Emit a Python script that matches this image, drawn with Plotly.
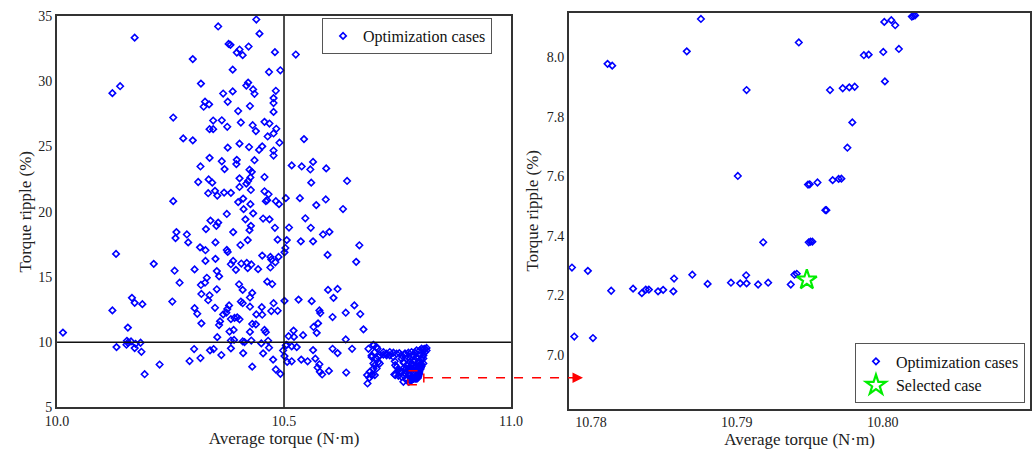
import plotly.graph_objects as go

# ---- Optimization cases: wide spread (Average torque N·m, Torque ripple %) ----
spread_x = [
    10.439, 10.355, 10.171, 10.446, 10.378, 10.382, 10.402, 10.422, 10.396, 10.409,
    10.480, 10.299, 10.387, 10.467, 10.492, 10.317, 10.421, 10.417, 10.139, 10.122,
    10.366, 10.387, 10.432, 10.435, 10.482, 10.477, 10.477, 10.326, 10.323, 10.335,
    10.376, 10.425, 10.399, 10.477, 10.256, 10.344, 10.363, 10.405, 10.375, 10.431,
    10.457, 10.468, 10.336, 10.344, 10.438, 10.483, 10.477, 10.464, 10.278, 10.299,
    10.490, 10.402, 10.376, 10.423, 10.445, 10.452, 10.477, 10.477, 10.336, 10.396,
    10.435, 10.363, 10.395, 10.316, 10.369, 10.424, 10.429, 10.402, 10.426, 10.457,
    10.334, 10.342, 10.311, 10.421, 10.417, 10.402, 10.348, 10.368, 10.383, 10.333,
    10.353, 10.457, 10.466, 10.427, 10.410, 10.399, 10.463, 10.460, 10.482, 10.489,
    10.256, 10.426, 10.411, 10.504,
    10.374, 10.432, 10.338, 10.355, 10.415, 10.454, 10.468, 10.427, 10.424, 10.480,
    10.351, 10.328, 10.388, 10.263, 10.261, 10.286, 10.289, 10.349, 10.420, 10.486,
    10.404, 10.315, 10.327, 10.374, 10.376, 10.130, 10.452, 10.470, 10.472, 10.488,
    10.481, 10.501, 10.327, 10.349, 10.388, 10.383, 10.406, 10.418, 10.428, 10.420,
    10.394, 10.443, 10.470, 10.213, 10.303, 10.352, 10.357, 10.259, 10.330, 10.326,
    10.317, 10.270, 10.401, 10.463, 10.474, 10.409, 10.352, 10.318, 10.336, 10.333,
    10.430, 10.425, 10.165, 10.171, 10.188, 10.254, 10.122, 10.303, 10.309, 10.348,
    10.379, 10.375, 10.405, 10.409, 10.425, 10.451, 10.477, 10.472, 10.486, 10.501,
    10.366, 10.373, 10.383, 10.391, 10.397, 10.402, 10.439, 10.452, 10.318, 10.359,
    10.357, 10.430, 10.438, 10.156, 10.013, 10.380, 10.389, 10.425, 10.457, 10.460,
    10.353, 10.383, 10.390, 10.409, 10.413, 10.428, 10.450, 10.465, 10.154, 10.156,
    10.153, 10.163, 10.173, 10.184, 10.131, 10.171, 10.186, 10.302, 10.337, 10.345,
    10.383, 10.362, 10.316, 10.292, 10.226, 10.193, 10.410, 10.454, 10.467, 10.430,
    10.476, 10.482, 10.492, 10.501, 10.504,
    10.526, 10.544, 10.517, 10.539, 10.564, 10.558, 10.593, 10.639, 10.560, 10.535,
    10.592, 10.571, 10.630,
    10.547, 10.511, 10.559, 10.586, 10.600, 10.506, 10.537, 10.564, 10.503, 10.666,
    10.596, 10.659, 10.532, 10.561, 10.597, 10.618, 10.609, 10.578, 10.580, 10.607,
    10.636, 10.655, 10.668, 10.675, 10.565, 10.575, 10.572, 10.521, 10.510, 10.522,
    10.542, 10.636, 10.506, 10.517, 10.528, 10.498, 10.564, 10.607, 10.618, 10.650,
    10.507, 10.517, 10.538, 10.552, 10.569, 10.578, 10.574, 10.579, 10.584, 10.599,
    10.637,
]
spread_y = [
    34.73, 34.20, 33.34, 33.65, 32.86, 32.79, 32.43, 32.66, 32.20, 32.00,
    32.23, 31.70, 30.89, 30.71, 30.84, 29.82, 29.90, 29.67, 29.62, 29.09,
    29.06, 29.22, 29.37, 29.04, 29.27, 28.71, 28.33, 28.43, 28.05, 28.23,
    28.43, 28.10, 27.72, 27.65, 27.22, 26.99, 27.01, 26.84, 26.51, 26.63,
    26.89, 26.76, 26.33, 26.33, 26.18, 26.36, 26.00, 25.77, 25.62, 25.47,
    25.29, 25.22, 24.91, 24.96, 24.74, 25.01, 24.69, 24.31, 24.13, 23.98,
    23.95, 23.87, 23.65, 23.47, 23.27, 23.22, 23.06, 22.56, 22.63, 22.66,
    22.48, 22.23, 22.28, 22.36, 22.15, 21.90, 21.60, 21.47, 21.45, 21.42,
    21.24, 21.57, 21.34, 21.67, 21.01, 20.74, 20.89, 20.81, 20.81, 20.58,
    20.81, 20.58, 20.20, 21.04,
    19.83, 19.88, 19.32, 19.17, 19.42, 19.48, 19.42, 18.92, 18.59, 18.77,
    18.92, 18.67, 18.44, 18.44, 17.98, 18.26, 17.65, 17.65, 17.83, 17.86,
    17.45, 17.27, 17.05, 17.07, 16.92, 16.77, 16.64, 16.54, 16.34, 16.54,
    16.13, 16.89, 16.23, 16.39, 16.23, 15.98, 16.03, 16.08, 15.96, 15.68,
    15.55, 15.60, 15.73, 16.01, 15.58, 15.45, 15.05, 15.48, 14.94, 14.56,
    14.39, 14.56, 14.44, 14.64, 14.46, 14.01, 14.06, 13.70, 13.60, 13.22,
    13.78, 13.43, 13.40, 13.02, 12.92, 13.12, 12.44, 12.61, 12.18, 12.64,
    12.82, 12.54, 13.12, 12.99, 12.72, 12.69, 12.99, 12.39, 12.41, 13.17,
    12.13, 12.26, 11.78, 11.86, 11.91, 11.76, 12.13, 12.11, 11.45, 11.60,
    11.32, 11.40, 11.37, 11.12, 10.74, 10.82, 10.94, 10.79, 10.94, 10.77,
    10.39, 10.13, 10.18, 10.06, 10.01, 10.13, 9.91, 10.11, 10.11, 9.96,
    9.81, 10.06, 9.88, 9.96, 9.63, 9.55, 9.27, 9.48, 9.38, 9.48,
    9.53, 9.02, 8.79, 8.56, 8.29, 7.55, 9.17, 9.15, 9.58, 8.13,
    8.67, 7.91, 7.58, 8.94, 9.75,
    32.05, 25.57, 23.55, 23.47, 23.82, 23.24, 23.32, 22.36, 22.23, 21.04,
    20.94, 20.51, 20.21,
    19.50, 18.79, 18.77, 18.26, 18.46, 17.83, 17.73, 17.73, 17.22, 17.43,
    16.69, 16.16, 13.27, 13.15, 14.01, 14.08, 13.40, 12.44, 12.24, 11.93,
    12.26, 12.82, 12.16, 10.99, 11.17, 11.45, 10.72, 10.89, 10.46, 10.41,
    10.54, 10.21, 9.80, 9.68, 9.63, 9.37, 9.40, 9.50, 9.17, 9.50,
    8.49, 8.54, 8.67, 8.54, 8.74, 8.31, 8.06, 7.73, 7.53, 7.80,
    7.68,
]

# ---- Optimization cases: dense cluster near the optimum (outside zoom window) ----
cluster_x = [
    10.686, 10.697, 10.706, 10.693, 10.704, 10.711, 10.708, 10.719, 10.726, 10.733,
    10.741, 10.754, 10.766, 10.774, 10.788, 10.799, 10.807, 10.810, 10.683, 10.688,
    10.684, 10.689, 10.697, 10.700, 10.694, 10.700, 10.744, 10.748, 10.743, 10.752,
    10.759, 10.764, 10.769, 10.777, 10.781, 10.763, 10.755, 10.785, 10.792, 10.796,
    10.803, 10.799, 10.776, 10.807, 10.814,
    10.697, 10.704, 10.700, 10.693, 10.708, 10.697, 10.711, 10.704, 10.693, 10.719,
    10.726, 10.733, 10.741, 10.748, 10.759, 10.767, 10.774, 10.763, 10.745, 10.752,
    10.745, 10.759, 10.767, 10.781, 10.792, 10.803, 10.814, 10.811, 10.800, 10.807,
    10.789, 10.796, 10.781, 10.803, 10.774, 10.774, 10.776, 10.770, 10.775, 10.763,
    10.785, 10.792, 10.800, 10.807, 10.771, 10.776, 10.778, 10.770, 10.763, 10.759,
]
cluster_y = [
    9.50, 9.80, 9.50, 8.99, 8.74, 8.99, 8.49, 9.05, 9.12, 8.99,
    9.20, 9.17, 9.12, 9.20, 9.20, 9.37, 9.45, 9.50, 7.48, 7.27,
    6.84, 7.73, 7.98, 8.23, 7.53, 7.48, 8.54, 8.11, 7.53, 7.43,
    8.74, 8.41, 7.98, 8.74, 8.36, 7.48, 7.73, 8.94, 8.79, 8.49,
    8.74, 8.25, 7.98, 8.99, 9.37,
    9.76, 9.63, 9.25, 8.87, 8.87, 8.37, 8.37, 7.99, 7.48, 9.25,
    9.00, 9.25, 8.87, 9.12, 9.00, 9.12, 8.87, 8.49, 8.24, 7.86,
    7.48, 7.35, 7.61, 9.25, 9.38, 9.51, 9.56, 9.25, 9.00, 8.75,
    8.62, 8.37, 8.24, 8.30, 7.86, 7.99, 7.48, 7.10, 6.97, 6.97,
    9.00, 8.87, 8.54, 8.37, 7.73, 7.61, 8.49, 8.75, 7.99, 7.73,
]

# ---- Optimization cases inside the zoom window ----
zoom_x = [
    10.78114, 10.78146, 10.78657, 10.78754, 10.79067, 10.79007, 10.79425, 10.79488,
    10.79500, 10.79553, 10.79607, 10.79614, 10.79639, 10.79657, 10.79698, 10.79717,
    10.79726, 10.79758, 10.79771, 10.79792, 10.79808, 10.79871, 10.79904, 10.80004,
    10.80011, 10.80015, 10.80059, 10.80086, 10.80111, 10.80200, 10.80211, 10.80222,
    10.77870, 10.77886, 10.77979, 10.78014, 10.78139, 10.78289, 10.78349, 10.78376,
    10.78397, 10.78460, 10.78495, 10.78565, 10.78570, 10.78695, 10.78800, 10.78960,
    10.79023, 10.79064, 10.79067, 10.79146, 10.79181, 10.79215, 10.79370, 10.79395,
    10.79411, 10.79493, 10.79505, 10.79518,
]
zoom_y = [
    7.978, 7.972, 8.020, 8.129, 7.890, 7.601, 8.050, 7.572,
    7.573, 7.579, 7.486, 7.486, 7.890, 7.587, 7.591, 7.592,
    7.896, 7.696, 7.899, 7.781, 7.901, 8.007, 8.009, 8.018,
    8.119, 7.919, 8.125, 8.108, 8.028, 8.137, 8.139, 8.141,
    7.293, 7.061, 7.282, 7.056, 7.215, 7.222, 7.207, 7.219,
    7.219, 7.213, 7.218, 7.213, 7.256, 7.269, 7.238, 7.242,
    7.240, 7.267, 7.240, 7.236, 7.378, 7.242, 7.236, 7.269,
    7.272, 7.378, 7.380, 7.380,
]

selected_x = [10.7948]
selected_y = [7.252]

left_x_ticks = [10.0, 10.5, 11.0]
left_x_ticktext = ["10.0", "10.5", "11.0"]
left_y_ticks = [5, 10, 15, 20, 25, 30, 35]
right_x_ticks = [10.78, 10.79, 10.80]
right_x_ticktext = ["10.78", "10.79", "10.80"]
right_y_ticks = [7.0, 7.2, 7.4, 7.6, 7.8, 8.0]
right_y_ticktext = ["7.0", "7.2", "7.4", "7.6", "7.8", "8.0"]

all_x = spread_x + cluster_x + zoom_x
all_y = spread_y + cluster_y + zoom_y

FONT = "Liberation Serif, Times New Roman, serif"
BLUE = "#0000FF"
marker_cases = dict(symbol="diamond-open", size=5, color=BLUE, line=dict(color=BLUE, width=1.6))

fig = go.Figure()
fig.add_trace(go.Scatter(x=all_x, y=all_y, mode="markers", name="Optimization cases",
                         marker=marker_cases, xaxis="x", yaxis="y", legend="legend",
                         cliponaxis=True))
fig.add_trace(go.Scatter(x=all_x, y=all_y, mode="markers", name="Optimization cases",
                         marker=marker_cases, xaxis="x2", yaxis="y2", legend="legend2",
                         cliponaxis=True))
fig.add_trace(go.Scatter(x=selected_x, y=selected_y, mode="markers", name="Selected case",
                         marker=dict(symbol="star-open", size=15, color="#00EE00",
                                     line=dict(color="#00EE00", width=2.2)),
                         xaxis="x2", yaxis="y2", legend="legend2"))

axis_common = dict(showgrid=False, zeroline=False, showline=True, linecolor="#333333",
                   linewidth=2, mirror=True, ticks="", ticklen=0, automargin=False,
                   tickfont=dict(family=FONT, size=14, color="#222222"),
                   title_font=dict(family=FONT, size=17, color="#222222"))

fig.update_layout(
    width=1035, height=450,
    margin=dict(l=0, r=0, t=0, b=0),
    paper_bgcolor="white", plot_bgcolor="white",
    font=dict(family=FONT, color="#222222"),
    xaxis=dict(axis_common, domain=[0.0551, 0.4937], range=[10.0, 11.0],
               tickvals=left_x_ticks, ticktext=left_x_ticktext,
               title=dict(text="Average torque (N·m)", standoff=4), anchor="y"),
    yaxis=dict(axis_common, domain=[0.0945, 0.9644], range=[5, 35],
               tickvals=left_y_ticks,
               title=dict(text="Torque ripple (%)", standoff=2), anchor="x"),
    xaxis2=dict(axis_common, domain=[0.5498, 0.9952], range=[10.7785, 10.8101],
                tickvals=right_x_ticks, ticktext=right_x_ticktext,
                title=dict(text="Average torque (N·m)", standoff=4), anchor="y2"),
    yaxis2=dict(axis_common, domain=[0.0922, 0.9711], range=[6.819, 8.149],
                tickvals=right_y_ticks, ticktext=right_y_ticktext,
                title=dict(text="Torque ripple (%)", standoff=4), anchor="x2"),
    legend=dict(x=0.4754, y=0.9600, xanchor="right", yanchor="top",
                bgcolor="white", bordercolor="#555555", borderwidth=1,
                font=dict(family=FONT, size=16, color="#111111"),
                itemwidth=30, tracegroupgap=0),
    legend2=dict(x=0.9903, y=0.1034, xanchor="right", yanchor="bottom",
                 bgcolor="white", bordercolor="#555555", borderwidth=1,
                 font=dict(family=FONT, size=16, color="#111111"),
                 itemwidth=30, tracegroupgap=0),
    showlegend=True,
)

# reference lines on the left panel
fig.add_shape(type="line", xref="x", yref="y", x0=10.5, x1=10.5, y0=5, y1=35,
              line=dict(color="#111111", width=1.5))
fig.add_shape(type="line", xref="x", yref="y", x0=10.0, x1=11.0, y0=10, y1=10,
              line=dict(color="#111111", width=1.5))

# zoom-window marker and connector arrow
fig.add_shape(type="rect", xref="x", yref="y", x0=10.773, x1=10.808, y0=6.75, y1=7.81,
              line=dict(color="#FF0000", width=1.5, dash="dash"))
fig.add_shape(type="line", xref="paper", yref="y", x0=0.4097, x1=0.5560,
              y0=7.28, y1=7.28, line=dict(color="#FF0000", width=1.5, dash="dash"))
fig.add_annotation(xref="paper", yref="y", x=0.5633, y=7.28, ax=-12, ay=0,
                   axref="pixel", ayref="pixel", text="", showarrow=True,
                   arrowhead=2, arrowsize=1.4, arrowwidth=1.5, arrowcolor="#FF0000")

fig.write_html("out.html")
